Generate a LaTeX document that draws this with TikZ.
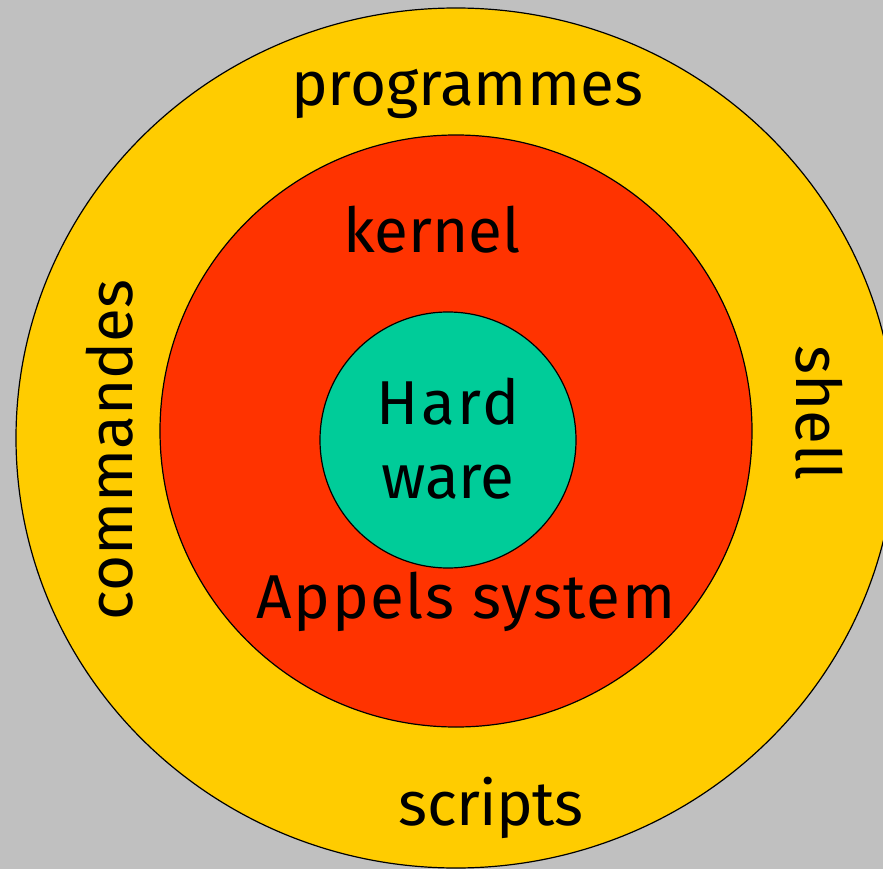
\documentclass[tikz,border=0pt]{standalone}
\usepackage{fontspec}
\setmainfont{Fira Sans}
\usepackage{tikz}
\usetikzlibrary{positioning, shapes.geometric}
\definecolor{fondgris}{HTML}{C0C0C0}
\definecolor{jaune}{HTML}{FFCC00}
\definecolor{rouge}{HTML}{FF3300}
\definecolor{vert}{HTML}{00CC99}

\begin{document}
\begin{tikzpicture}[x=1pt, y=-1pt, couche/.style={draw, line width=1.2pt, inner sep=0pt}, mot/.style={inner sep=0pt, anchor=base, font=\fontsize{62}{74}\selectfont}]
		\useasboundingbox (0,0) rectangle (883,869);
		\fill[fondgris] (0,0) rectangle (883,869);
		
		\node[couche, ellipse, fill=jaune, minimum width=880pt, minimum height=860pt] (shell) at (456,438) {};
		\node[couche, circle, fill=rouge, minimum size=592pt] (kernel) at (456,431) {};
		\node[couche, circle, fill=vert, minimum size=256pt] (hw) at (448,440) {};
		
		\node[mot] (progs) at (467,106) {programmes};
		\node[mot] (scripts) at (491,825) {\addfontfeatures{LetterSpace=-1}scripts};
		\node[mot, rotate=90] (cmds) at (132,450) {commandes};
		\node[mot, rotate=-90] (shl) at (796,413) {shell};
		
		\node[mot] (kern) at (432,252) {kernel};
		\node[mot] (appels) at (466,618) {\addfontfeatures{LetterSpace=2.5}Appels system};
		
		\node[mot] (hard) at (448,424) {\addfontfeatures{LetterSpace=4}Hard};
		\node[mot, below=74pt of hard.base, anchor=base] (ware) {ware};
		
	\end{tikzpicture}
\end{document}
